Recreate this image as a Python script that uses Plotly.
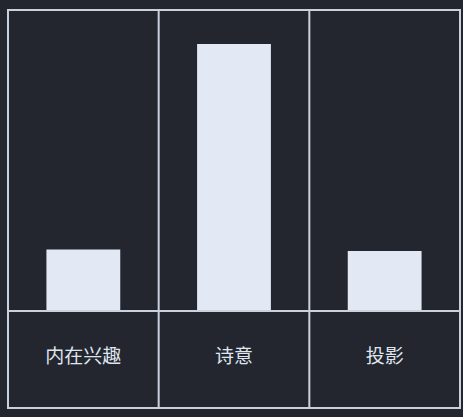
import plotly.graph_objects as go

categories = ["内在兴趣", "诗意", "投影"]
values = [23, 100, 22.5]

BG = "#23262e"
BAR = "#e2e8f4"
LINE = "#c9d1de"

fig = go.Figure(go.Bar(x=categories, y=values, width=0.49,
                       marker=dict(color=BAR, line=dict(width=0))))

plot_h = 301.0
bottom_ext = -(408 - 311) / plot_h

shapes = []
shapes.append(dict(type="rect", xref="paper", yref="paper", x0=0, x1=1,
                   y0=bottom_ext, y1=1, line=dict(color=LINE, width=2)))
shapes.append(dict(type="line", xref="paper", yref="paper", x0=0, x1=1,
                   y0=0, y1=0, line=dict(color=LINE, width=2)))
for xv in [0.5, 1.5]:
    shapes.append(dict(type="line", xref="x", yref="paper", x0=xv, x1=xv,
                       y0=bottom_ext, y1=1, line=dict(color=LINE, width=2)))

fig.update_layout(
    width=463, height=417,
    margin=dict(l=8, r=3, t=10, b=106, autoexpand=False),
    paper_bgcolor=BG, plot_bgcolor=BG,
    showlegend=False,
    shapes=shapes,
    font=dict(family="Noto Sans CJK SC", color="#dfe5ef", size=19),
)
fig.update_xaxes(range=[-0.5, 2.5], showgrid=False, zeroline=False,
                 showline=False, ticks="", ticklabelstandoff=32,
                 tickfont=dict(size=19, color="#dfe5ef", family="Noto Sans CJK SC"))
fig.update_yaxes(range=[0, 112.7], showgrid=False, zeroline=False,
                 showline=False, showticklabels=False, ticks="")

fig.write_html(
    "out.html",
    config={"displayModeBar": False},
    post_script="document.body.style.margin='0';document.body.style.overflow='hidden';"
                "document.body.style.background='" + BG + "';",
)
